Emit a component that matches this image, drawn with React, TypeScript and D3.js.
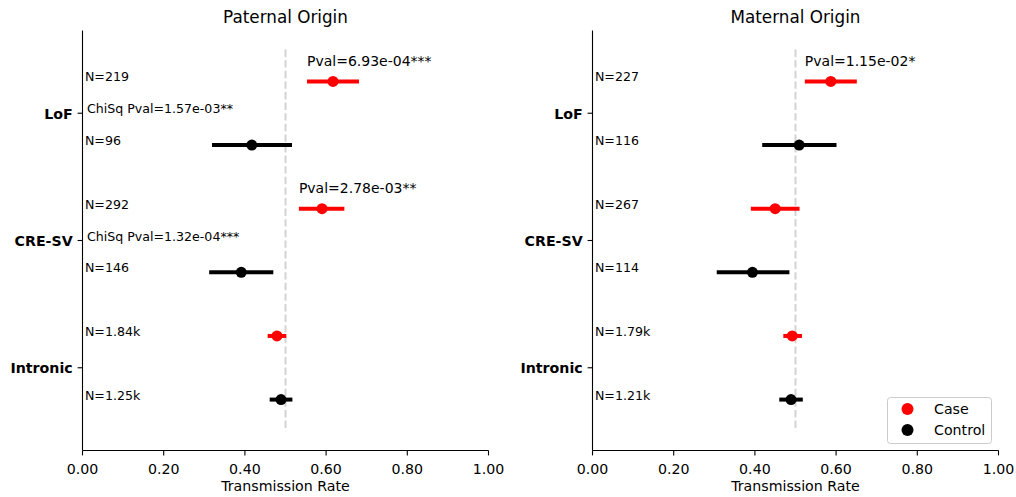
import React from "react";
import * as d3 from "d3";

// Variant classes shown on the y axis
const categories = ["LoF", "CRE-SV", "Intronic"];
const xTicks = [0, 0.2, 0.4, 0.6, 0.8, 1.0];

// Paternal origin: transmission rate with confidence interval
const paternalCaseRate = [0.617, 0.59, 0.479];
const paternalCaseLo = [0.553, 0.533, 0.456];
const paternalCaseHi = [0.681, 0.645, 0.502];
const paternalCtrlRate = [0.417, 0.391, 0.489];
const paternalCtrlLo = [0.319, 0.312, 0.461];
const paternalCtrlHi = [0.516, 0.47, 0.517];
const paternalCaseN = ["219", "292", "1.84k"];
const paternalCtrlN = ["96", "146", "1.25k"];
const paternalPval = ["Pval=6.93e-04***", "Pval=2.78e-03**", ""];
const paternalChiSq = ["ChiSq Pval=1.57e-03**", "ChiSq Pval=1.32e-04***", ""];

// Maternal origin
const maternalCaseRate = [0.587, 0.45, 0.492];
const maternalCaseLo = [0.523, 0.39, 0.47];
const maternalCaseHi = [0.651, 0.51, 0.516];
const maternalCtrlRate = [0.509, 0.394, 0.489];
const maternalCtrlLo = [0.418, 0.306, 0.46];
const maternalCtrlHi = [0.601, 0.485, 0.518];
const maternalCaseN = ["227", "267", "1.79k"];
const maternalCtrlN = ["116", "114", "1.21k"];
const maternalPval = ["Pval=1.15e-02*", "", ""];
const maternalChiSq = ["", "", ""];

const FONT = "DejaVu Sans, sans-serif";
const CASE_COLOR = "#ff0000";
const CTRL_COLOR = "#000000";

const TOP = 30.5;
const BOTTOM = 450.5;
const TICK_FS = 14.2;

type PanelProps = {
  title: string;
  x0: number;
  x1: number;
  caseRate: number[];
  caseLo: number[];
  caseHi: number[];
  ctrlRate: number[];
  ctrlLo: number[];
  ctrlHi: number[];
  caseN: string[];
  ctrlN: string[];
  pval: string[];
  chisq: string[];
  legend?: boolean;
};

function Panel(p: PanelProps) {
  const x = d3.scaleLinear().domain([0, 1]).range([p.x0, p.x1]);
  const y = d3.scaleLinear().domain([-0.65, 2.65]).range([TOP, BOTTOM]);
  const fmt = d3.format(".2f");
  const off = 0.25;

  const series = [
    { color: CASE_COLOR, rate: p.caseRate, lo: p.caseLo, hi: p.caseHi, n: p.caseN, dy: -off },
    { color: CTRL_COLOR, rate: p.ctrlRate, lo: p.ctrlLo, hi: p.ctrlHi, n: p.ctrlN, dy: off },
  ];

  return (
    <g fontFamily={FONT}>
      {/* title */}
      <text x={(p.x0 + p.x1) / 2} y={23} textAnchor="middle" fontSize={16.8} fill="#000">
        {p.title}
      </text>

      {/* reference line at 0.5 */}
      <line
        x1={x(0.5)}
        x2={x(0.5)}
        y1={y(-0.5)}
        y2={y(2.5)}
        stroke="#d3d3d3"
        strokeWidth={2}
        strokeDasharray="7.4,3.2"
      />

      {/* intervals and points */}
      {series.map((s, si) =>
        categories.map((c, i) => (
          <g key={`${si}-${c}`}>
            <line
              x1={x(s.lo[i])}
              x2={x(s.hi[i])}
              y1={y(i + s.dy)}
              y2={y(i + s.dy)}
              stroke={s.color}
              strokeWidth={4}
            />
            <circle cx={x(s.rate[i])} cy={y(i + s.dy)} r={5.5} fill={s.color} />
            <text x={x(0.006)} y={y(i + s.dy)} fontSize={12.6} fill="#000">
              {`N=${s.n[i]}`}
            </text>
          </g>
        ))
      )}

      {/* case-vs-control p-values */}
      {categories.map((c, i) =>
        p.pval[i] ? (
          <text key={`pv-${c}`} x={x(p.caseLo[i])} y={y(i - off) - 15.5} fontSize={14} fill="#000">
            {p.pval[i]}
          </text>
        ) : null
      )}
      {categories.map((c, i) =>
        p.chisq[i] ? (
          <text key={`cs-${c}`} x={x(0.011)} y={y(i)} fontSize={12.6} fill="#000">
            {p.chisq[i]}
          </text>
        ) : null
      )}

      {/* left spine with category ticks */}
      <line x1={p.x0} x2={p.x0} y1={TOP} y2={BOTTOM} stroke="#000" strokeWidth={1.1} />
      {categories.map((c, i) => (
        <g key={`yt-${c}`}>
          <line x1={p.x0 - 4.9} x2={p.x0} y1={y(i)} y2={y(i)} stroke="#000" strokeWidth={1.1} />
          <text
            x={p.x0 - 9.8}
            y={y(i) + 5.5}
            textAnchor="end"
            fontSize={TICK_FS}
            fontWeight="bold"
            fill="#000"
          >
            {c}
          </text>
        </g>
      ))}

      {/* bottom spine with rate ticks */}
      <line x1={p.x0} x2={p.x1} y1={BOTTOM} y2={BOTTOM} stroke="#000" strokeWidth={1.1} />
      {xTicks.map((t) => (
        <g key={`xt-${t}`}>
          <line x1={x(t)} x2={x(t)} y1={BOTTOM} y2={BOTTOM + 4.9} stroke="#000" strokeWidth={1.1} />
          <text x={x(t)} y={474} textAnchor="middle" fontSize={TICK_FS} fill="#000">
            {fmt(t)}
          </text>
        </g>
      ))}
      <text x={(p.x0 + p.x1) / 2} y={491} textAnchor="middle" fontSize={TICK_FS} fill="#000">
        Transmission Rate
      </text>

      {p.legend && (
        <g>
          <rect
            x={887.5}
            y={397.5}
            width={104}
            height={46}
            rx={3}
            fill="#fff"
            fillOpacity={0.8}
            stroke="#cccccc"
            strokeWidth={1}
          />
          <circle cx={907.5} cy={409} r={6} fill={CASE_COLOR} />
          <text x={934} y={414} fontSize={TICK_FS} fill="#000">
            Case
          </text>
          <circle cx={907.5} cy={430} r={6} fill={CTRL_COLOR} />
          <text x={934} y={435} fontSize={TICK_FS} fill="#000">
            Control
          </text>
        </g>
      )}
    </g>
  );
}

export default function App() {
  return (
    <svg
      width={1016}
      height={497}
      style={{ position: "absolute", left: 0, top: 0, background: "#fff" }}
    >
      <rect width={1016} height={497} fill="#fff" />
      <Panel
        title="Paternal Origin"
        x0={82.5}
        x1={488.5}
        caseRate={paternalCaseRate}
        caseLo={paternalCaseLo}
        caseHi={paternalCaseHi}
        ctrlRate={paternalCtrlRate}
        ctrlLo={paternalCtrlLo}
        ctrlHi={paternalCtrlHi}
        caseN={paternalCaseN}
        ctrlN={paternalCtrlN}
        pval={paternalPval}
        chisq={paternalChiSq}
      />
      <Panel
        title="Maternal Origin"
        x0={592.5}
        x1={998.5}
        caseRate={maternalCaseRate}
        caseLo={maternalCaseLo}
        caseHi={maternalCaseHi}
        ctrlRate={maternalCtrlRate}
        ctrlLo={maternalCtrlLo}
        ctrlHi={maternalCtrlHi}
        caseN={maternalCaseN}
        ctrlN={maternalCtrlN}
        pval={maternalPval}
        chisq={maternalChiSq}
        legend
      />
    </svg>
  );
}
